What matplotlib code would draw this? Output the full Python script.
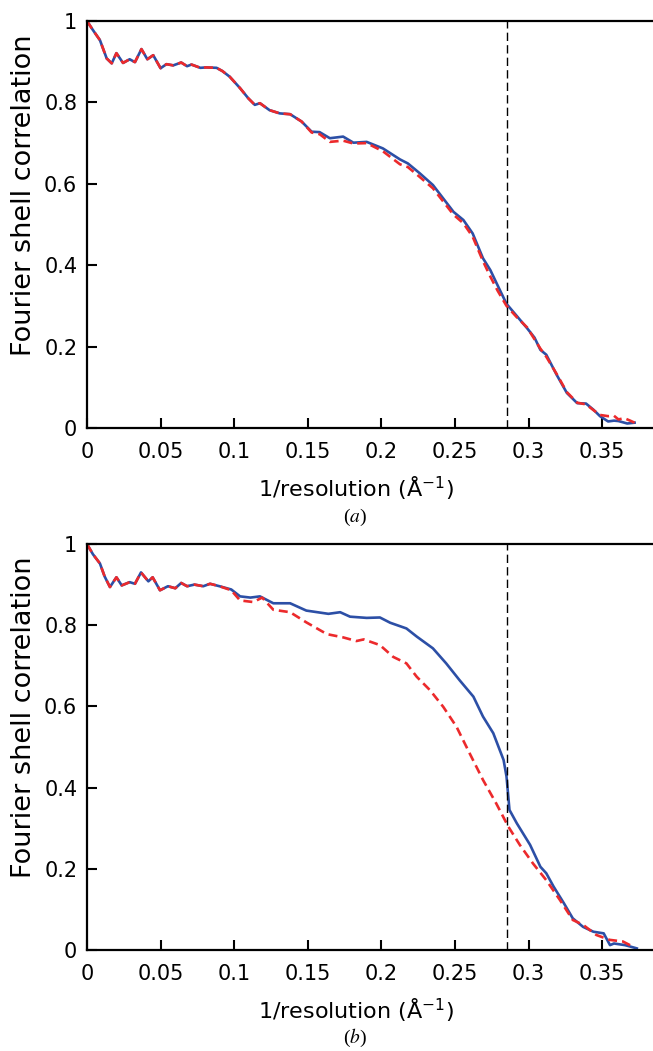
import matplotlib

matplotlib.use("Agg")
import matplotlib.pyplot as plt

plt.rcParams["font.family"] = ["DejaVu Sans"]

# ---- 数据----
# (a) 蓝色实线
a_blue_x = [0.000, 0.004, 0.0088, 0.0134, 0.0168, 0.020, 0.0245, 0.029, 0.0326, 0.037,
            0.041, 0.045, 0.050, 0.054, 0.0586, 0.064, 0.068, 0.071, 0.077, 0.081,
            0.088, 0.092, 0.097, 0.104, 0.1096, 0.114, 0.1175, 0.124, 0.131, 0.138,
            0.1458, 0.1526, 0.158, 0.165, 0.174, 0.181, 0.190, 0.201, 0.2126, 0.218,
            0.226, 0.235, 0.249, 0.2557, 0.262, 0.269, 0.274, 0.279, 0.285, 0.292,
            0.299, 0.304, 0.308, 0.312, 0.319, 0.326, 0.333, 0.339, 0.344, 0.3485,
            0.354, 0.358, 0.361, 0.367, 0.372]
a_blue_y = [1.000, 0.978, 0.953, 0.908, 0.896, 0.921, 0.897, 0.906, 0.899, 0.931,
            0.906, 0.916, 0.884, 0.894, 0.891, 0.898, 0.889, 0.893, 0.885, 0.886,
            0.885, 0.877, 0.863, 0.835, 0.810, 0.794, 0.798, 0.781, 0.773, 0.771,
            0.753, 0.728, 0.727, 0.712, 0.716, 0.701, 0.703, 0.687, 0.660, 0.650,
            0.626, 0.597, 0.531, 0.511, 0.478, 0.417, 0.388, 0.350, 0.305, 0.275,
            0.245, 0.222, 0.192, 0.180, 0.131, 0.086, 0.061, 0.060, 0.045, 0.029,
            0.016, 0.018, 0.017, 0.011, 0.013]
# (a) 红色虚线
a_red_x = [0.000, 0.004, 0.0088, 0.0134, 0.0168, 0.020, 0.0245, 0.029, 0.0326, 0.037,
           0.041, 0.045, 0.050, 0.054, 0.0586, 0.064, 0.068, 0.071, 0.077, 0.081,
           0.088, 0.092, 0.097, 0.104, 0.1096, 0.114, 0.1175, 0.124, 0.131, 0.138,
           0.1458, 0.1526, 0.158, 0.165, 0.174, 0.181, 0.190, 0.201, 0.2126, 0.218,
           0.226, 0.235, 0.249, 0.2557, 0.262, 0.269, 0.274, 0.279, 0.285, 0.292,
           0.299, 0.304, 0.308, 0.312, 0.319, 0.326, 0.333, 0.339, 0.344, 0.3485,
           0.354, 0.358, 0.361, 0.365, 0.369, 0.372]
a_red_y = [1.000, 0.978, 0.953, 0.908, 0.896, 0.921, 0.897, 0.906, 0.899, 0.931,
           0.906, 0.916, 0.884, 0.894, 0.891, 0.898, 0.889, 0.893, 0.885, 0.886,
           0.885, 0.877, 0.863, 0.835, 0.810, 0.794, 0.798, 0.781, 0.773, 0.771,
           0.753, 0.726, 0.722, 0.703, 0.706, 0.699, 0.700, 0.680, 0.648, 0.641,
           0.617, 0.589, 0.524, 0.503, 0.470, 0.410, 0.372, 0.337, 0.300, 0.272,
           0.247, 0.218, 0.195, 0.175, 0.133, 0.088, 0.062, 0.058, 0.044, 0.032,
           0.029, 0.030, 0.021, 0.024, 0.018, 0.013]

# (b) 蓝色实线
b_blue_x = [0.000, 0.004, 0.0088, 0.012, 0.0156, 0.020, 0.0236, 0.029, 0.0326, 0.0367,
            0.0417, 0.0446, 0.0496, 0.055, 0.060, 0.064, 0.068, 0.073, 0.079, 0.0836,
            0.090, 0.098, 0.104, 0.111, 0.1175, 0.1266, 0.138, 0.149, 0.164, 0.172,
            0.1787, 0.190, 0.199, 0.206, 0.217, 0.224, 0.235, 0.244, 0.253, 0.2625,
            0.269, 0.276, 0.283, 0.285, 0.287, 0.292, 0.301, 0.308, 0.312, 0.317,
            0.324, 0.330, 0.337, 0.344, 0.351, 0.3553, 0.358, 0.3655, 0.3735]
b_blue_y = [1.000, 0.975, 0.952, 0.920, 0.894, 0.918, 0.898, 0.906, 0.902, 0.930,
            0.908, 0.918, 0.886, 0.896, 0.891, 0.904, 0.896, 0.900, 0.896, 0.902,
            0.896, 0.888, 0.871, 0.868, 0.871, 0.854, 0.854, 0.836, 0.828, 0.832,
            0.821, 0.818, 0.819, 0.806, 0.792, 0.772, 0.743, 0.706, 0.665, 0.624,
            0.575, 0.534, 0.468, 0.427, 0.345, 0.312, 0.259, 0.205, 0.189, 0.156,
            0.115, 0.078, 0.057, 0.045, 0.041, 0.012, 0.016, 0.012, 0.004]
# (b) 红色虚线
b_red_x = [0.000, 0.004, 0.0088, 0.012, 0.0156, 0.020, 0.0236, 0.029, 0.0326, 0.0367,
           0.0417, 0.0446, 0.0496, 0.055, 0.060, 0.064, 0.068, 0.073, 0.079, 0.0836,
           0.090, 0.098, 0.104, 0.113, 0.119, 0.1266, 0.138, 0.149, 0.163, 0.174,
           0.183, 0.188, 0.199, 0.208, 0.217, 0.224, 0.233, 0.242, 0.251, 0.260,
           0.269, 0.278, 0.2862, 0.294, 0.303, 0.312, 0.3213, 0.330, 0.337, 0.346,
           0.355, 0.364, 0.371]
b_red_y = [1.000, 0.975, 0.952, 0.920, 0.894, 0.918, 0.898, 0.906, 0.902, 0.930,
           0.908, 0.918, 0.886, 0.896, 0.891, 0.904, 0.896, 0.900, 0.896, 0.902,
           0.896, 0.886, 0.861, 0.857, 0.868, 0.838, 0.832, 0.807, 0.778, 0.770,
           0.761, 0.765, 0.751, 0.722, 0.706, 0.673, 0.640, 0.599, 0.550, 0.484,
           0.419, 0.361, 0.304, 0.259, 0.213, 0.172, 0.123, 0.074, 0.062, 0.037,
           0.025, 0.021, 0.008]

cutoff = 0.285
x_ticks = [0, 0.05, 0.1, 0.15, 0.2, 0.25, 0.3, 0.35]
x_ticklabels = ["0", "0.05", "0.1", "0.15", "0.2", "0.25", "0.3", "0.35"]
y_ticks = [0, 0.2, 0.4, 0.6, 0.8, 1.0]
y_ticklabels = ["0", "0.2", "0.4", "0.6", "0.8", "1"]

BLUE = "#2c4fa6"
RED = "#ec2a2c"

fig = plt.figure(figsize=(6.53, 10.51), dpi=100)
panels = [
    ([0.1332, 0.5928, 0.8668, 0.3872], a_blue_x, a_blue_y, a_red_x, a_red_y, "a", 0.508),
    ([0.1332, 0.0961, 0.8668, 0.3863], b_blue_x, b_blue_y, b_red_x, b_red_y, "b", 0.0125),
]
for rect, bx, by, rx, ry, tag, cap_y in panels:
    ax = fig.add_axes(rect)
    ax.plot(bx, by, color=BLUE, lw=1.9, solid_joinstyle="round")
    ax.plot(rx, ry, color=RED, lw=1.9, dashes=(3.4, 1.9))
    ax.plot([cutoff, cutoff], [0, 1], color="black", lw=1.0, dashes=(6, 3))
    ax.set_xlim(0, 0.3845)
    ax.set_ylim(0, 1)
    ax.set_xticks(x_ticks)
    ax.set_xticklabels(x_ticklabels)
    ax.set_yticks(y_ticks)
    ax.set_yticklabels(y_ticklabels)
    ax.spines["right"].set_visible(False)
    for s in ("left", "bottom", "top"):
        ax.spines[s].set_linewidth(1.6)
    ax.tick_params(axis="both", direction="in", length=7.5, width=1.5,
                   labelsize=15, top=False, right=False)
    ax.tick_params(axis="x", pad=10)
    ax.tick_params(axis="y", pad=7)
    ax.set_xlabel("1/resolution (Å$^{-1}$)", fontsize=16, va="center")
    ax.xaxis.set_label_coords(0.475, -0.148)
    ax.set_ylabel("Fourier shell correlation", fontsize=19.5, va="center")
    ax.yaxis.set_label_coords(-0.111, 0.573)
    fig.text(0.543, cap_y, f"(${tag}$)", ha="center", va="center",
             fontsize=14, family="Liberation Serif", math_fontfamily="stix")

fig.savefig("out.png", dpi=100)
